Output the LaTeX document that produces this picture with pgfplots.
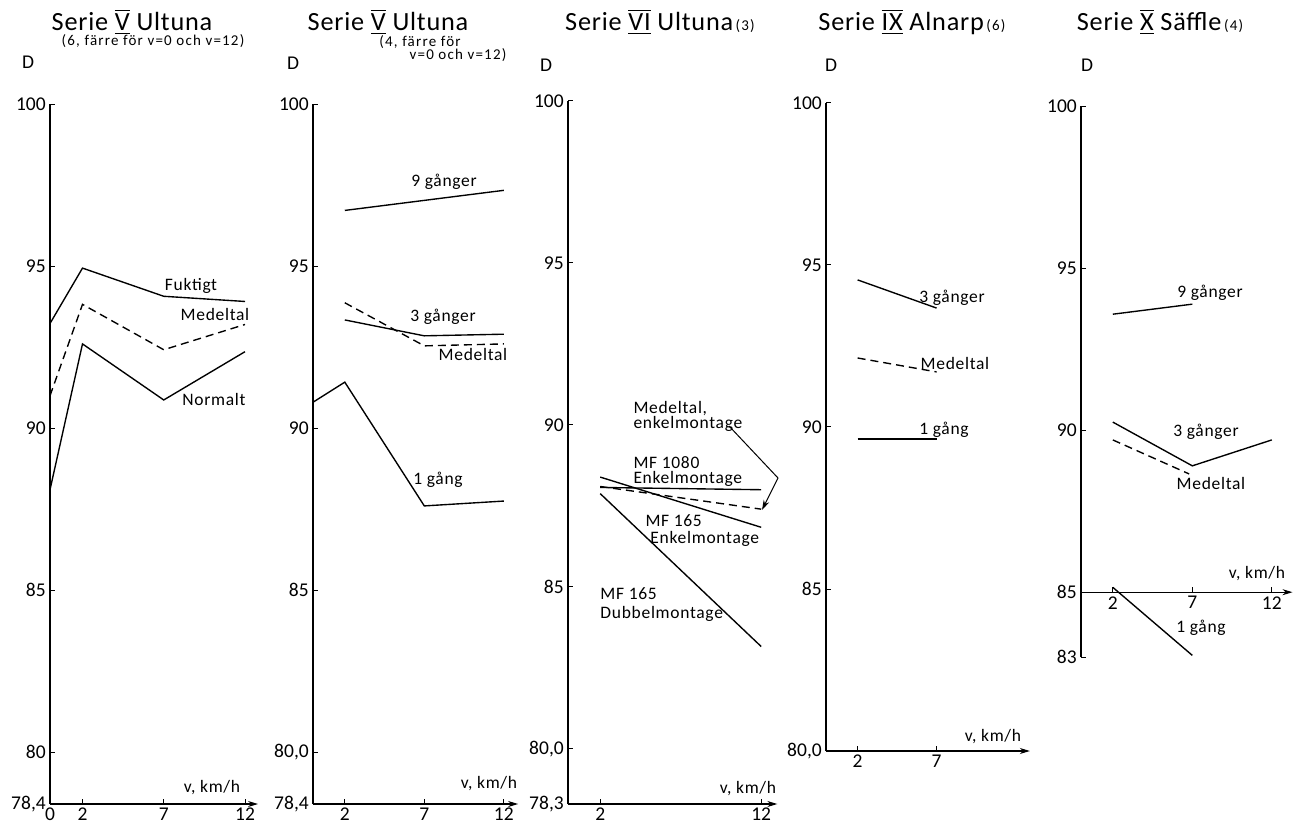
\documentclass[border=0pt]{standalone}
\usepackage{fontspec}
\setmainfont{Carlito}
\usepackage{pgfplots}
\pgfplotsset{compat=1.18}
\usetikzlibrary{arrows.meta}
\newcommand\RN[1]{$\overline{\underline{\hbox{#1}}}$}
\newcommand\tf{\fontsize{10.5}{11}\selectfont\addfontfeature{LetterSpace=3}}
\newcommand\smf{\fontsize{6}{7}\selectfont\addfontfeature{LetterSpace=8}}
\newcommand\lf{\fontsize{7}{6}\selectfont\addfontfeature{LetterSpace=4}}
\newcommand\kf{\fontsize{7.8}{8}\selectfont}
\pgfplotsset{
 panel/.style={
  clip=false, anchor=south west,
  axis x line=bottom, axis y line*=left,
  y=12.96pt,
  tick align=inside, major tick length=2pt,
  every tick/.style={black, line width=0.4pt},
  axis line style={line width=0.45pt},
  every outer x axis line/.append style={-{Stealth[length=4pt,width=2.4pt]}},
  x axis line style={-{Stealth[length=4pt,width=2.4pt]}},
  ticklabel style={font=\kf, inner sep=1.5pt},
  /pgf/number format/assume math mode=true,
 },
 ln/.style={black, line width=0.55pt, mark=none},
 dl/.style={ln, dash pattern=on 3.2pt off 2pt},
}
\begin{document}
\begin{tikzpicture}
\path[use as bounding box] (0,0) rectangle (521.6pt,332.4pt);

% Panel 1
\begin{axis}[panel, at={(20pt,10.8pt)}, xmin=0, xmax=12.8, x=6.5pt, ymin=78.4, ymax=100,
  xtick={0,2,7,12}, xticklabels={0,2,7,12},
  ytick={78.4,80,85,90,95,100}, yticklabels={{78,4},80,85,90,95,100}]
\addplot[ln] coordinates {(0,93.23) (2,94.94) (7,94.07) (12,93.91)};
\addplot[dl] coordinates {(0,91.0) (2,93.82) (7,92.42) (12,93.2)};
\addplot[ln] coordinates {(0,88.1) (2,92.6) (7,90.87) (12,92.36)};
\end{axis}

% Panel 2
\begin{axis}[panel, at={(125.2pt,10.8pt)}, xmin=0, xmax=12.9, x=6.36pt, ymin=78.4, ymax=100,
  xtick={2,7,12}, xticklabels={2,7,12},
  ytick={78.4,80,85,90,95,100}, yticklabels={{78,4},{80,0},85,90,95,100}]
\addplot[ln] coordinates {(2,96.72) (12,97.34)};
\addplot[ln] coordinates {(2,93.34) (7,92.85) (12,92.9)};
\addplot[dl] coordinates {(2,93.87) (7,92.54) (12,92.6)};
\addplot[ln] coordinates {(0,90.8) (2,91.42) (7,87.6) (12,87.75)};
\end{axis}

% Panel 3
\begin{axis}[panel, at={(227.2pt,10.8pt)}, xmin=0, xmax=13.0, x=6.44pt, ymin=78.3, ymax=100,
  xtick={2,12}, xticklabels={2,12},
  ytick={78.3,80,85,90,95,100}, yticklabels={{78,3},{80,0},85,90,95,100}]
\addplot[ln] coordinates {(2,88.07) (12,88.0)};
\addplot[ln] coordinates {(2,88.39) (12,86.84)};
\addplot[dl] coordinates {(2,88.1) (12,87.4)};
\addplot[ln] coordinates {(2,87.88) (12,83.16)};
\end{axis}

% Panel 4
\begin{axis}[panel, at={(330.4pt,32pt)}, xmin=0, xmax=12.9, x=6.32pt, ymin=80, ymax=100,
  xtick={2,7}, xticklabels={2,7},
  ytick={80,85,90,95,100}, yticklabels={{80,0},85,90,95,100}]
\addplot[ln] coordinates {(2,94.54) (7,93.67)};
\addplot[dl] coordinates {(2,92.13) (7,91.7)};
\addplot[ln] coordinates {(2,89.63) (7,89.63)};
\end{axis}

% Panel 5
\begin{axis}[panel, at={(432.4pt,69.6pt)}, xmin=0, xmax=13.3, x=6.36pt, ymin=83, ymax=100,
  axis x line=none, xtick=\empty,
  ytick={83,85,90,95,100}, yticklabels={83,85,90,95,100}]
\addplot[ln] coordinates {(2,93.58) (7,93.89)};
\addplot[ln] coordinates {(2,90.25) (7,88.9) (12,89.7)};
\addplot[dl] coordinates {(2,89.7) (6.8,88.65)};
\addplot[ln] coordinates {(2,85.15) (7,83.05)};
\draw[line width=0.45pt, -{Stealth[length=4pt,width=2.4pt]}] (axis cs:0,85) -- (axis cs:13.3,85);
\draw[line width=0.4pt] (axis cs:2,85) -- (axis cs:2,85.16);
\draw[line width=0.4pt] (axis cs:7,85) -- (axis cs:7,85.16);
\draw[line width=0.4pt] (axis cs:12,85) -- (axis cs:12,85.16);
\node[anchor=north, inner sep=1.5pt, font=\kf] at (axis cs:2,85) {2};
\node[anchor=north, inner sep=1.5pt, font=\kf] at (axis cs:7,85) {7};
\node[anchor=north, inner sep=1.5pt, font=\kf] at (axis cs:12,85) {12};
\end{axis}

\begin{scope}[x=0.4pt,y=-0.4pt,yshift=332.4pt]
% titles
\node[font=\tf] at (132,22) {Serie \RN{V} Ultuna};
\node[font=\smf] at (153,41) {(6, färre för v=0 och v=12)};
\node[font=\tf] at (388,22) {Serie \RN{V} Ultuna};
\node[font=\smf] at (420,42) {(4, färre för};
\node[font=\smf] at (458,55) {v=0 och v=12)};
\node[font=\tf] at (660,22) {Serie \RN{VI} Ultuna{\smf\,(3)}};
\node[font=\tf] at (912,22) {Serie \RN{IX} Alnarp{\smf\,(6)}};
\node[font=\tf] at (1160,22) {Serie \RN{X} Säffle{\smf\,(4)}};
% D
\node[font=\kf] at (28,62) {D};
\node[font=\kf] at (293,63) {D};
\node[font=\kf] at (546,65) {D};
\node[font=\kf] at (831,65) {D};
\node[font=\kf] at (1087,65) {D};
% v, km/h
\node[font=\lf] at (212,788) {v, km/h};
\node[font=\lf] at (489,784) {v, km/h};
\node[font=\lf] at (748,789) {v, km/h};
\node[font=\lf] at (993,737) {v, km/h};
\node[font=\lf] at (1257,574) {v, km/h};
% panel 1
\node[font=\lf] at (191,286) {Fuktigt};
\node[font=\lf] at (215,314) {Medeltal};
\node[font=\lf] at (214,399) {Normalt};
% panel 2
\node[font=\lf] at (444,182) {9 gånger};
\node[font=\lf] at (443,317) {3 gånger};
\node[font=\lf] at (473,354) {Medeltal};
\node[font=\lf] at (438,480) {1 gång};
% panel 3
\node[font=\lf, anchor=west, align=left, inner sep=0pt] at (633,416) {Medeltal,\\enkelmontage};
\node[font=\lf, anchor=west, align=left, inner sep=0pt] at (633,472) {MF 1080\\Enkelmontage};
\node[font=\lf, anchor=west, inner sep=0pt] at (645,521) {MF 165};
\node[font=\lf, anchor=west, inner sep=0pt] at (650,539) {Enkelmontage};
\node[font=\lf, anchor=west, inner sep=0pt] at (600,594) {MF 165};
\node[font=\lf, anchor=west, inner sep=0pt] at (600,614) {Dubbelmontage};
\draw[line width=0.4pt, -{Stealth[length=4pt,width=2.4pt]}] (729,426) -- (778,478) -- (762,510);
% panel 4
\node[font=\lf] at (952,298) {3 gånger};
\node[font=\lf] at (955,363) {Medeltal};
\node[font=\lf] at (944,430) {1 gång};
% panel 5
\node[font=\lf] at (1210,293) {9 gånger};
\node[font=\lf] at (1206,432) {3 gånger};
\node[font=\lf] at (1211,483) {Medeltal};
\node[font=\lf] at (1201,628) {1 gång};
\end{scope}
\end{tikzpicture}
\end{document}
